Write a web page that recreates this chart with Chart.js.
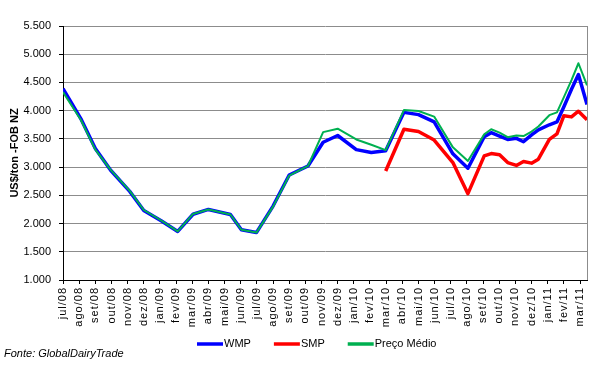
<!DOCTYPE html>
<html>
<head>
<meta charset="utf-8">
<script src="https://cdn.jsdelivr.net/npm/chart.js@4/dist/chart.umd.min.js"></script>
<style>
  html, body { margin: 0; padding: 0; background: #ffffff; }
  canvas { display: block; }
</style>
</head>
<body>
<canvas id="c" width="606" height="368"></canvas>
<script>
// Month labels of the category (date) axis
const categories = ['jul/08','ago/08','set/08','out/08','nov/08','dez/08','jan/09','fev/09','mar/09','abr/09','mai/09','jun/09','jul/09','ago/09','set/09','out/09','nov/09','dez/09','jan/10','fev/10','mar/10','abr/10','mai/10','jun/10','jul/10','ago/10','set/10','out/10','nov/10','dez/10','jan/11','fev/11','mar/11'];

// Auction dates, in months counted from the start of jul/08
const auctionMonth = [0, 1.1, 2.0, 2.95, 4.13, 5.0, 6.1, 7.1, 8.05, 9.0, 10.36, 11.04, 11.97, 13.0, 14.0, 15.16, 16.1, 17.0, 18.15, 19.08, 19.97, 21.1, 22.0, 22.97, 24.13, 25.06, 26.07, 26.5, 27.02, 27.52, 28.06, 28.5, 29.0, 29.42, 30.1, 30.57, 31.0, 31.47, 31.9, 32.43];

// Prices, US$/ton FOB NZ
const wmp = [4390, 3860, 3330, 2945, 2570, 2230, 2045, 1860, 2165, 2250, 2160, 1890, 1840, 2310, 2860, 3020, 3440, 3560, 3310, 3260, 3290, 3970, 3930, 3800, 3235, 2980, 3540, 3610, 3550, 3490, 3510, 3450, 3570, 3660, 3750, 3800, 4070, 4380, 4640, 4110];
const smp = [null, null, null, null, null, null, null, null, null, null, null, null, null, null, null, null, null, null, null, null, 2930, 3670, 3630, 3480, 3080, 2530, 3200, 3240, 3220, 3080, 3030, 3100, 3070, 3140, 3490, 3590, 3910, 3890, 3990, 3840];
const precoMedio = [4330, 3840, 3310, 2950, 2580, 2240, 2050, 1860, 2170, 2250, 2160, 1890, 1840, 2300, 2850, 3020, 3620, 3680, 3490, 3395, 3300, 4010, 3995, 3895, 3350, 3110, 3580, 3670, 3610, 3530, 3560, 3550, 3630, 3720, 3920, 3970, 4240, 4540, 4840, 4450];

const seriesNames = ['WMP', 'SMP', 'Preço Médio'];
const yTitle = 'US$/ton -FOB NZ';
const sourceText = 'Fonte: GlobalDairyTrade';

const FAMILY = "Arial, 'Liberation Sans', sans-serif";

function pts(values) {
  return auctionMonth.map((x, i) => ({ x: x, y: values[i] }));
}
function fmtThousands(v) {
  const s = String(Math.round(v));
  return s.length > 3 ? s.slice(0, -3) + '.' + s.slice(-3) : s;
}

const frameAndLegend = {
  id: 'frameAndLegend',
  afterLayout(chart) {
    const xs = chart.scales.x;
    if (xs && !xs._spaced) {
      const orig = xs.drawLabels.bind(xs);
      xs.drawLabels = function (ca) {
        const ctx = this.ctx;
        ctx.save();
        if ('letterSpacing' in ctx) ctx.letterSpacing = '1px';
        orig(ca);
        ctx.restore();
      };
      xs._spaced = true;
    }
  },
  beforeDatasetsDraw(chart) {
    const { ctx, chartArea } = chart;
    ctx.save();
    ctx.strokeStyle = '#8c8c8c';
    ctx.lineWidth = 1;
    ctx.beginPath();
    ctx.moveTo(Math.round(chartArea.right) + 0.5, chartArea.top);
    ctx.lineTo(Math.round(chartArea.right) + 0.5, chartArea.bottom);
    ctx.stroke();
    ctx.restore();
  },
  afterDraw(chart) {
    const ctx = chart.ctx;
    ctx.save();
    ctx.font = '11px ' + FAMILY;
    ctx.textBaseline = 'middle';
    ctx.textAlign = 'left';
    let x = 197;
    const y = 344;
    chart.data.datasets.forEach(ds => {
      ctx.strokeStyle = ds.borderColor;
      ctx.lineWidth = 3.5;
      ctx.beginPath();
      ctx.moveTo(x, y);
      ctx.lineTo(x + 26, y);
      ctx.stroke();
      x += 27;
      ctx.fillStyle = '#000';
      ctx.fillText(ds.label, x, y);
      x += ctx.measureText(ds.label).width + 23;
    });
    ctx.font = 'italic 11px ' + FAMILY;
    ctx.fillStyle = '#000';
    ctx.fillText(sourceText, 4, 354);
    ctx.restore();
  }
};

new Chart(document.getElementById('c'), {
  type: 'line',
  data: {
    datasets: [
      { label: seriesNames[0], data: pts(wmp), borderColor: '#0000ff', borderWidth: 3.5, order: 3 },
      { label: seriesNames[1], data: pts(smp), borderColor: '#ff0000', borderWidth: 3.5, order: 2 },
      { label: seriesNames[2], data: pts(precoMedio), borderColor: '#00b050', borderWidth: 2, order: 1 }
    ]
  },
  options: {
    responsive: false,
    animation: false,
    devicePixelRatio: 1,
    elements: {
      point: { radius: 0, hoverRadius: 0 },
      line: { tension: 0, fill: false, borderJoinStyle: 'round', borderCapStyle: 'butt' }
    },
    layout: { padding: { top: 26, right: 19, left: 0, bottom: 0 } },
    plugins: { legend: { display: false }, tooltip: { enabled: false } },
    scales: {
      x: {
        type: 'linear',
        min: 0,
        max: auctionMonth[auctionMonth.length - 1],
        afterFit: s => { s.height = 88; },
        grid: { drawOnChartArea: false, drawTicks: true, tickLength: 4, tickColor: '#000' },
        border: { color: '#000', width: 1 },
        ticks: {
          stepSize: 1, autoSkip: false, includeBounds: false,
          minRotation: 90, maxRotation: 90, padding: 3,
          color: '#000', font: { size: 11, family: FAMILY },
          callback: v => (categories[v] !== undefined ? categories[v] : '')
        }
      },
      y: {
        min: 1000,
        max: 5500,
        afterFit: s => { s.width = 63; },
        grid: { color: '#8c8c8c', lineWidth: 1, tickLength: 4, tickColor: '#000' },
        border: { color: '#000', width: 1 },
        ticks: { stepSize: 500, padding: 8, color: '#000', font: { size: 11, family: FAMILY }, callback: v => fmtThousands(v) },
        title: { display: true, text: yTitle, color: '#000', font: { size: 11, weight: 'bold', family: FAMILY }, padding: { top: 8, bottom: 0 } }
      }
    }
  },
  plugins: [frameAndLegend]
});
</script>
</body>
</html>
